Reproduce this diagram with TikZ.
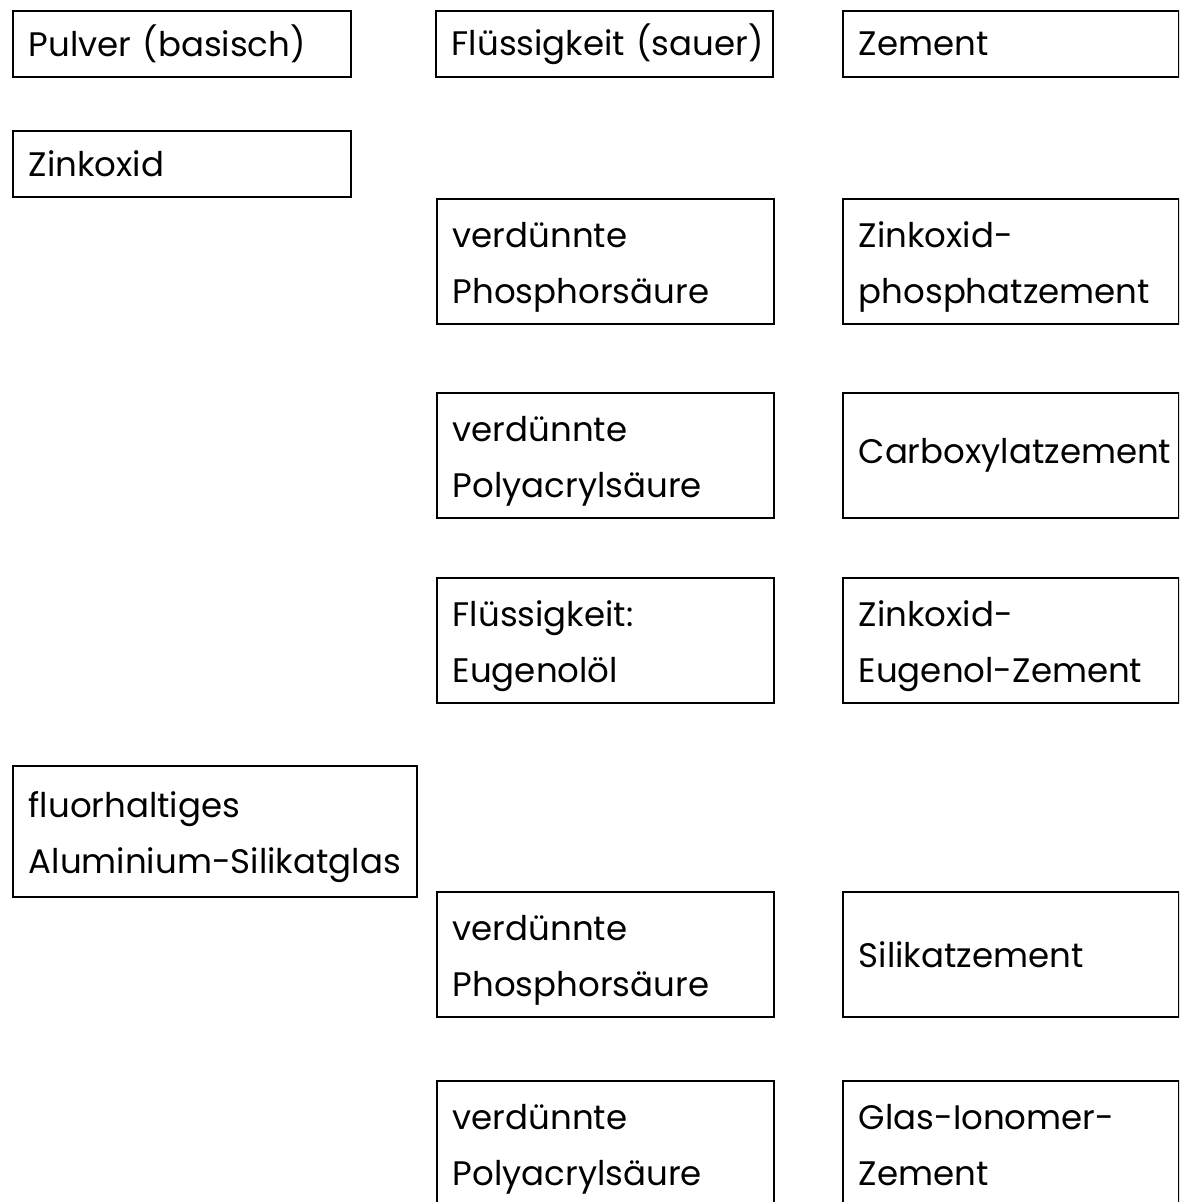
\documentclass[tikz,border=0pt]{standalone}
\usepackage{fontspec}
\setmainfont{Poppins}
\newcommand{\tstrut}{\rule[-13.5pt]{0pt}{56pt}}

\begin{document}
\begin{tikzpicture}[
    x=1pt, y=-1pt,
    box/.style={draw, line width=1.5pt, anchor=north west, inner xsep=16pt, inner ysep=0pt, align=left, font=\fontsize{34}{56}\selectfont},
    colA/.style={box, text width=306pt},
    colB/.style={box, text width=305pt},
    colC/.style={box, text width=304pt},
    low/.style={minimum height=66pt},
    high/.style={minimum height=125pt},
    two/.style={high, execute at begin node=\tstrut, execute at end node=\tstrut}
  ]
    \clip (0,0) rectangle (1179,1202);
    % header row
    \node[colA, low] (pulver) at (12,10) {Pulver (basisch)};
    \node[colB, low] (fluessig) at (435,10) {\mbox{Flüssigkeit (sauer)}};
    \node[colC, low] (zement) at (842,10) {Zement};
    % zinc oxide group
    \node[colA, low] (zinkoxid) at (12,130) {Zinkoxid};
    \node[colB, two] (phos1) at (436,198) {verdünnte\\Phosphorsäure};
    \node[colC, two] (zpz) at (842,198) {Zinkoxid-\\phosphatzement};
    \node[colB, two] (poly1) at (436,392) {verdünnte\\Polyacrylsäure};
    \node[colC, high] (carbox) at (842,392) {Carboxylatzement};
    \node[colB, two] (eugenol) at (436,577) {Flüssigkeit:\\Eugenolöl};
    \node[colC, two] (zez) at (842,577) {Zinkoxid-\\Eugenol-Zement};
    % glass group
    \node[box, two, text width=372pt, minimum height=131pt] (glas) at (12,765) {fluorhaltiges\\\mbox{Aluminium-Silikatglas}};
    \node[colB, two] (phos2) at (436,891) {verdünnte\\Phosphorsäure};
    \node[colC, high] (silikat) at (842,891) {Silikatzement};
    \node[colB, two] (poly2) at (436,1080) {verdünnte\\Polyacrylsäure};
    \node[colC, two] (gic) at (842,1080) {Glas-Ionomer-\\Zement};
  \end{tikzpicture}
\end{document}
